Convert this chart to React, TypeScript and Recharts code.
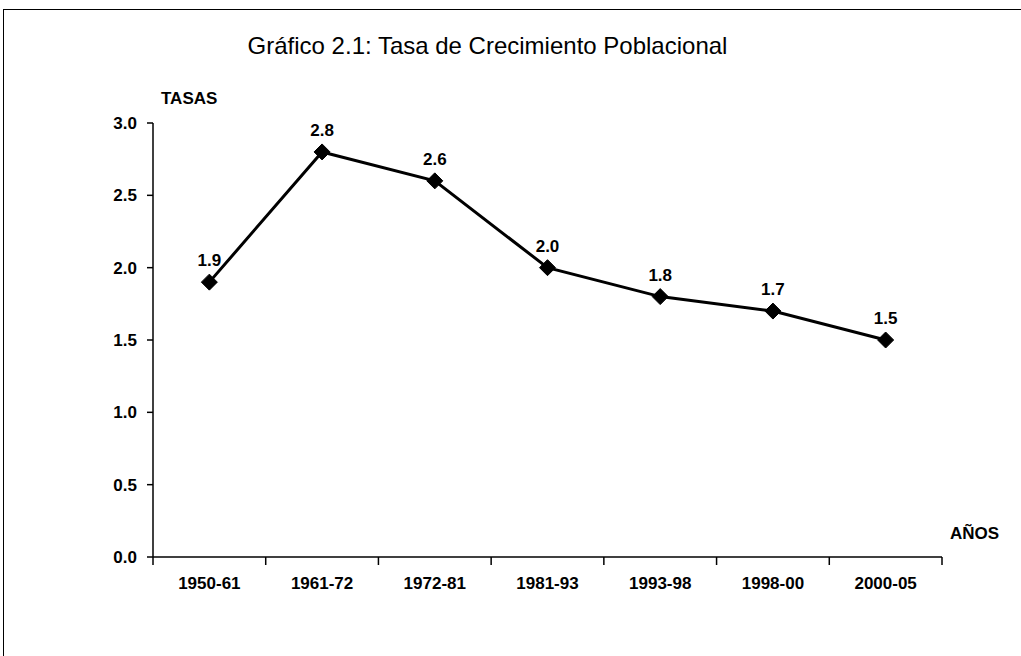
import { LineChart, Line, XAxis, YAxis, LabelList } from 'recharts'

const periods = ['1950-61', '1961-72', '1972-81', '1981-93', '1993-98', '1998-00', '2000-05']
const tasas = [1.9, 2.8, 2.6, 2.0, 1.8, 1.7, 1.5]
const yTicks = [0, 0.5, 1, 1.5, 2, 2.5, 3]

const data = periods.map((p, i) => ({ periodo: p, tasa: tasas[i] }))

const W = 1021
const H = 656
const M = { top: 123, right: 79, left: 0, bottom: 69 }
const Y_AXIS_W = 153
const PLOT_W = W - M.left - M.right - Y_AXIS_W
const BAND = PLOT_W / periods.length

const bold = "'Liberation Sans Narrow', 'Arial Narrow', 'Liberation Sans', Arial, sans-serif"

function XTick({ x, y, payload, index }: any) {
  const left = x - BAND / 2
  const isLast = index === periods.length - 1
  return (
    <g>
      <line x1={left} y1={y - 8} x2={left} y2={y} stroke="#000" strokeWidth={1.5} />
      {isLast && <line x1={x + BAND / 2} y1={y - 8} x2={x + BAND / 2} y2={y} stroke="#000" strokeWidth={1.5} />}
      <text x={x} y={y + 24} textAnchor="middle" fontFamily={bold} fontWeight="bold" fontSize={17} fill="#000">
        {payload.value}
      </text>
    </g>
  )
}

function Diamond({ cx, cy }: any) {
  if (cx == null || cy == null) return null
  const r = 8
  return (
    <polygon
      points={`${cx},${cy - r} ${cx + r},${cy} ${cx},${cy + r} ${cx - r},${cy}`}
      fill="#000"
      stroke="#000"
      strokeWidth={1}
    />
  )
}

export default function App() {
  return (
    <div style={{ position: 'fixed', left: 0, top: 0, width: W, height: H, background: '#fff', overflow: 'hidden' }}>
      <div
        style={{
          position: 'absolute',
          left: 3,
          top: 9,
          width: 1040,
          height: 700,
          border: '1.5px solid #000',
        }}
      />
      <div
        style={{
          position: 'absolute',
          left: 0,
          width: 975,
          top: 32,
          textAlign: 'center',
          fontFamily: "'Liberation Sans', Arial, sans-serif",
          fontSize: 24,
          color: '#000',
        }}
      >
        Gráfico 2.1: Tasa de Crecimiento Poblacional
      </div>
      <div
        style={{
          position: 'absolute',
          left: 161,
          top: 89,
          fontFamily: bold,
          fontWeight: 'bold',
          fontSize: 17,
          color: '#000',
        }}
      >
        TASAS
      </div>
      <div
        style={{
          position: 'absolute',
          left: 950,
          top: 524,
          fontFamily: bold,
          fontWeight: 'bold',
          fontSize: 17,
          color: '#000',
        }}
      >
        AÑOS
      </div>
      <div style={{ position: 'absolute', left: 0, top: 0 }}>
        <LineChart width={W} height={H} data={data} margin={M}>
          <XAxis
            dataKey="periodo"
            height={30}
            padding={{ left: BAND / 2, right: BAND / 2 }}
            axisLine={{ stroke: '#000', strokeWidth: 1.5 }}
            tickLine={false}
            tick={<XTick />}
            interval={0}
          />
          <YAxis
            width={Y_AXIS_W}
            domain={[0, 3]}
            ticks={yTicks}
            tickFormatter={(v: number) => v.toFixed(1)}
            axisLine={{ stroke: '#000', strokeWidth: 1.5 }}
            tickLine={{ stroke: '#000', strokeWidth: 1.5 }}
            tickSize={6}
            tickMargin={10}
            tick={{ fill: '#000', fontFamily: bold, fontWeight: 'bold', fontSize: 17 }}
          />
          <Line
            dataKey="tasa"
            stroke="#000"
            strokeWidth={3}
            dot={<Diamond />}
            activeDot={false}
            isAnimationActive={false}
          >
            <LabelList
              dataKey="tasa"
              position="top"
              offset={16}
              formatter={(v: number) => v.toFixed(1)}
              style={{ fill: '#000', fontFamily: bold, fontWeight: 'bold', fontSize: 17 }}
            />
          </Line>
        </LineChart>
      </div>
    </div>
  )
}
